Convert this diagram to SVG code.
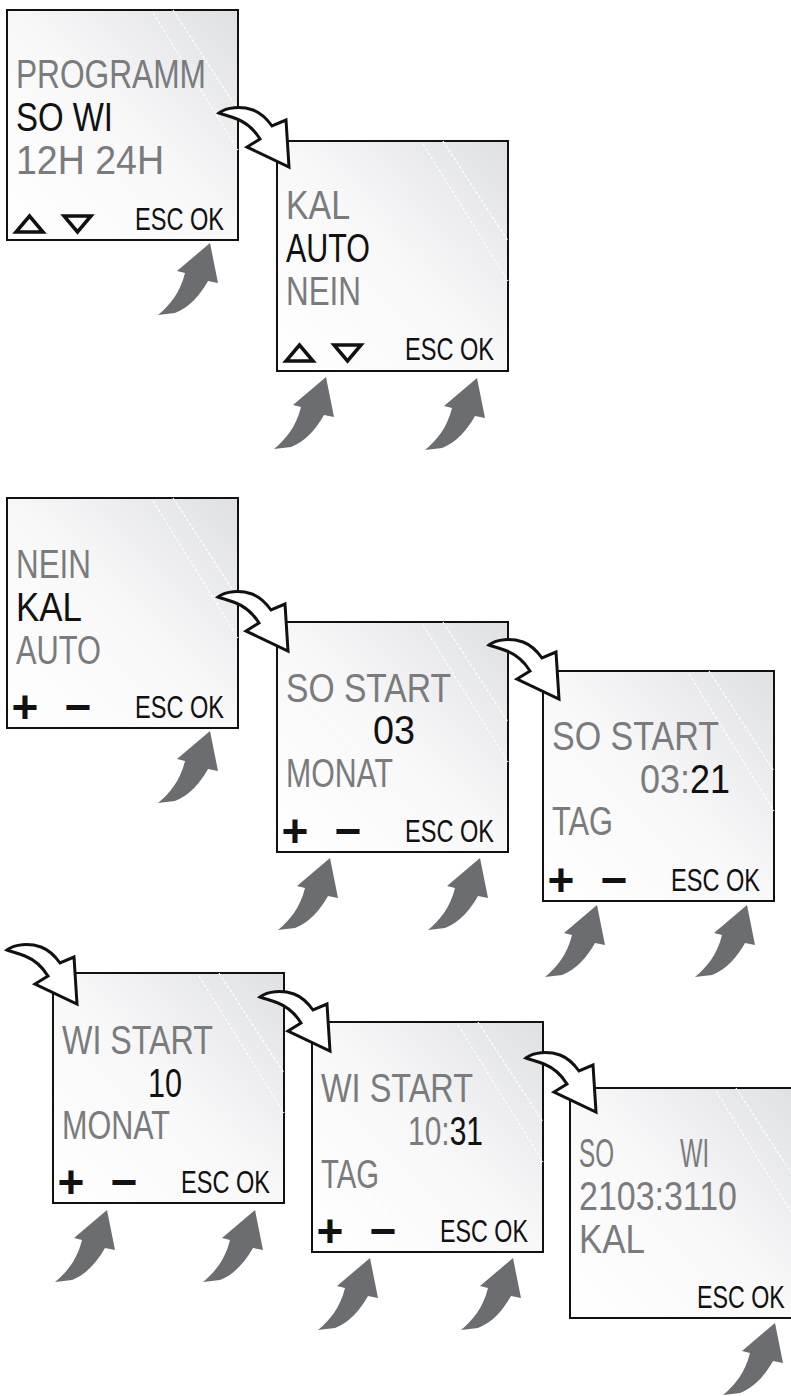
<svg xmlns="http://www.w3.org/2000/svg" xmlns:xlink="http://www.w3.org/1999/xlink" width="791" height="1396" viewBox="0 0 791 1396">
<style>
.box{fill:url(#lcd);stroke:#111;stroke-width:2}
.glare{stroke:#fff;stroke-width:1.2;stroke-dasharray:3 2;fill:none}
.t{font-family:"Liberation Sans",Arial,sans-serif;font-size:41px}
.g{fill:#7a7b7d}
.k{fill:#111}
.end{text-anchor:end}
.btn{font-family:"Liberation Sans",Arial,sans-serif;font-size:31px;fill:#111}
.sym{font-family:"Liberation Sans",Arial,sans-serif;font-size:46px;font-weight:bold;fill:#111;text-anchor:middle}
.tri{fill:none;stroke:#111;stroke-width:3.5;stroke-linejoin:miter}
.out{fill:#fff;stroke:#111;stroke-width:3;stroke-linejoin:miter}
.press{fill:#6c6d70}
</style>
<defs>
<linearGradient id="lcd" x1="0" y1="1" x2="1" y2="0">
<stop offset="0" stop-color="#ffffff"/>
<stop offset="0.5" stop-color="#f8f8f9"/>
<stop offset="1" stop-color="#dfe0e3"/>
</linearGradient>
<linearGradient id="split0321" gradientUnits="userSpaceOnUse" x1="0" y1="0" x2="231" y2="0">
<stop offset="0.632" stop-color="#7a7b7d"/>
<stop offset="0.632" stop-color="#111111"/>
</linearGradient>
<linearGradient id="split1031" gradientUnits="userSpaceOnUse" x1="0" y1="0" x2="231" y2="0">
<stop offset="0.589" stop-color="#7a7b7d"/>
<stop offset="0.589" stop-color="#111111"/>
</linearGradient>
<path id="outArrow" class="out" d="M0,0 C8,-6 22,-7 34,-3 C42,0 48,6 53,13 L67,7 L70,54 L28,34 L41,26 C36,18 28,10 18,6 C11,3 5,2 0,0 Z"/>
<path id="pressArrow" class="press" d="M0,0 L8,40 L-2,38 C-10,52 -20,64 -35,70 L-52,72 C-40,62 -30,50 -25,30 L-33,28 Z"/>
</defs>
<rect width="791" height="1396" fill="#fff"/>

<g id="screen-programm" transform="translate(7,10)">
<rect class="box" x="0" y="0" width="231" height="230"/>
<path class="glare" d="M146,3 L231,140 M166,0 L231,100"/>
<text class="t g" x="9" y="78" textLength="190" lengthAdjust="spacingAndGlyphs">PROGRAMM</text>
<text class="t k" x="9" y="121" textLength="97" lengthAdjust="spacingAndGlyphs">SO WI</text>
<text class="t g" x="9" y="164" textLength="148" lengthAdjust="spacingAndGlyphs">12H 24H</text>
<polygon class="tri" points="9,222 36,222 22.5,206"/>
<polygon class="tri" points="57,206 84,206 70.5,222"/>
<text class="btn" x="128" y="220" textLength="89" lengthAdjust="spacingAndGlyphs">ESC OK</text>
</g>

<g id="screen-kal-auto" transform="translate(277,141)">
<rect class="box" x="0" y="0" width="231" height="230"/>
<path class="glare" d="M146,3 L231,140 M166,0 L231,100"/>
<text class="t g" x="9" y="78" textLength="64" lengthAdjust="spacingAndGlyphs">KAL</text>
<text class="t k" x="9" y="121" textLength="84" lengthAdjust="spacingAndGlyphs">AUTO</text>
<text class="t g" x="9" y="164" textLength="75" lengthAdjust="spacingAndGlyphs">NEIN</text>
<polygon class="tri" points="9,220 36,220 22.5,204"/>
<polygon class="tri" points="57,204 84,204 70.5,220"/>
<text class="btn" x="128" y="219" textLength="89" lengthAdjust="spacingAndGlyphs">ESC OK</text>
</g>

<g id="screen-nein-kal" transform="translate(7,498)">
<rect class="box" x="0" y="0" width="231" height="230"/>
<path class="glare" d="M146,3 L231,140 M166,0 L231,100"/>
<text class="t g" x="9" y="80" textLength="75" lengthAdjust="spacingAndGlyphs">NEIN</text>
<text class="t k" x="9" y="123" textLength="66" lengthAdjust="spacingAndGlyphs">KAL</text>
<text class="t g" x="9" y="166" textLength="85" lengthAdjust="spacingAndGlyphs">AUTO</text>
<text class="sym" x="18" y="225">+</text>
<text class="sym" x="71" y="225">−</text>
<text class="btn" x="128" y="220" textLength="89" lengthAdjust="spacingAndGlyphs">ESC OK</text>
</g>

<g id="screen-so-start-monat" transform="translate(277,622)">
<rect class="box" x="0" y="0" width="231" height="230"/>
<path class="glare" d="M146,3 L231,140 M166,0 L231,100"/>
<text class="t g" x="9" y="80" textLength="165" lengthAdjust="spacingAndGlyphs">SO START</text>
<text class="t k" x="96" y="122" textLength="42" lengthAdjust="spacingAndGlyphs">03</text>
<text class="t g" x="9" y="165" textLength="107" lengthAdjust="spacingAndGlyphs">MONAT</text>
<text class="sym" x="18" y="225">+</text>
<text class="sym" x="71" y="225">−</text>
<text class="btn" x="128" y="220" textLength="89" lengthAdjust="spacingAndGlyphs">ESC OK</text>
</g>

<g id="screen-so-start-tag" transform="translate(543,671)">
<rect class="box" x="0" y="0" width="231" height="230"/>
<path class="glare" d="M146,3 L231,140 M166,0 L231,100"/>
<text class="t g" x="9" y="79" textLength="167" lengthAdjust="spacingAndGlyphs">SO START</text>
<text class="t" x="97" y="122" textLength="90" lengthAdjust="spacingAndGlyphs" fill="url(#split0321)">03:21</text>
<text class="t g" x="9" y="164" textLength="61" lengthAdjust="spacingAndGlyphs">TAG</text>
<text class="sym" x="18" y="225">+</text>
<text class="sym" x="71" y="225">−</text>
<text class="btn" x="128" y="220" textLength="89" lengthAdjust="spacingAndGlyphs">ESC OK</text>
</g>

<g id="screen-wi-start-monat" transform="translate(53,973)">
<rect class="box" x="0" y="0" width="231" height="230"/>
<path class="glare" d="M146,3 L231,140 M166,0 L231,100"/>
<text class="t g" x="9" y="81" textLength="151" lengthAdjust="spacingAndGlyphs">WI START</text>
<text class="t k" x="95" y="124" textLength="34" lengthAdjust="spacingAndGlyphs">10</text>
<text class="t g" x="9" y="166" textLength="108" lengthAdjust="spacingAndGlyphs">MONAT</text>
<text class="sym" x="18" y="225">+</text>
<text class="sym" x="71" y="225">−</text>
<text class="btn" x="128" y="220" textLength="89" lengthAdjust="spacingAndGlyphs">ESC OK</text>
</g>

<g id="screen-wi-start-tag" transform="translate(312,1022)">
<rect class="box" x="0" y="0" width="231" height="230"/>
<path class="glare" d="M146,3 L231,140 M166,0 L231,100"/>
<text class="t g" x="9" y="80" textLength="152" lengthAdjust="spacingAndGlyphs">WI START</text>
<text class="t" x="96" y="123" textLength="75" lengthAdjust="spacingAndGlyphs" fill="url(#split1031)">10:31</text>
<text class="t g" x="9" y="166" textLength="58" lengthAdjust="spacingAndGlyphs">TAG</text>
<text class="sym" x="18" y="225">+</text>
<text class="sym" x="71" y="225">−</text>
<text class="btn" x="128" y="220" textLength="88" lengthAdjust="spacingAndGlyphs">ESC OK</text>
</g>

<g id="screen-summary" transform="translate(570,1088)">
<rect class="box" x="0" y="0" width="231" height="230"/>
<path class="glare" d="M146,3 L231,140 M166,0 L231,100"/>
<text class="t g" x="9" y="79" textLength="35" lengthAdjust="spacingAndGlyphs">SO</text>
<text class="t g" x="110" y="79" textLength="29" lengthAdjust="spacingAndGlyphs">WI</text>
<text class="t g" x="9" y="122" textLength="158" lengthAdjust="spacingAndGlyphs">2103:3110</text>
<text class="t g" x="9" y="165" textLength="66" lengthAdjust="spacingAndGlyphs">KAL</text>
<text class="btn" transform="translate(127,220) scale(0.75,1)" x="0" y="0">ESC OK</text>
</g>

<g id="connectors">
<use xlink:href="#outArrow" transform="translate(219,113)"/>
<use xlink:href="#outArrow" transform="translate(218,597)"/>
<use xlink:href="#outArrow" transform="translate(489,645)"/>
<use xlink:href="#outArrow" transform="translate(7,950)"/>
<use xlink:href="#outArrow" transform="translate(260,997)"/>
<use xlink:href="#outArrow" transform="translate(526,1058)"/>
</g>

<g id="button-presses">
<use xlink:href="#pressArrow" transform="translate(210,243)"/>
<use xlink:href="#pressArrow" transform="translate(326,377)"/>
<use xlink:href="#pressArrow" transform="translate(477,378)"/>
<use xlink:href="#pressArrow" transform="translate(210,731)"/>
<use xlink:href="#pressArrow" transform="translate(330,858)"/>
<use xlink:href="#pressArrow" transform="translate(480,858)"/>
<use xlink:href="#pressArrow" transform="translate(597,905)"/>
<use xlink:href="#pressArrow" transform="translate(747,905)"/>
<use xlink:href="#pressArrow" transform="translate(107,1210)"/>
<use xlink:href="#pressArrow" transform="translate(255,1210)"/>
<use xlink:href="#pressArrow" transform="translate(370,1258)"/>
<use xlink:href="#pressArrow" transform="translate(513,1258)"/>
<use xlink:href="#pressArrow" transform="translate(775,1323)"/>
</g>
</svg>
